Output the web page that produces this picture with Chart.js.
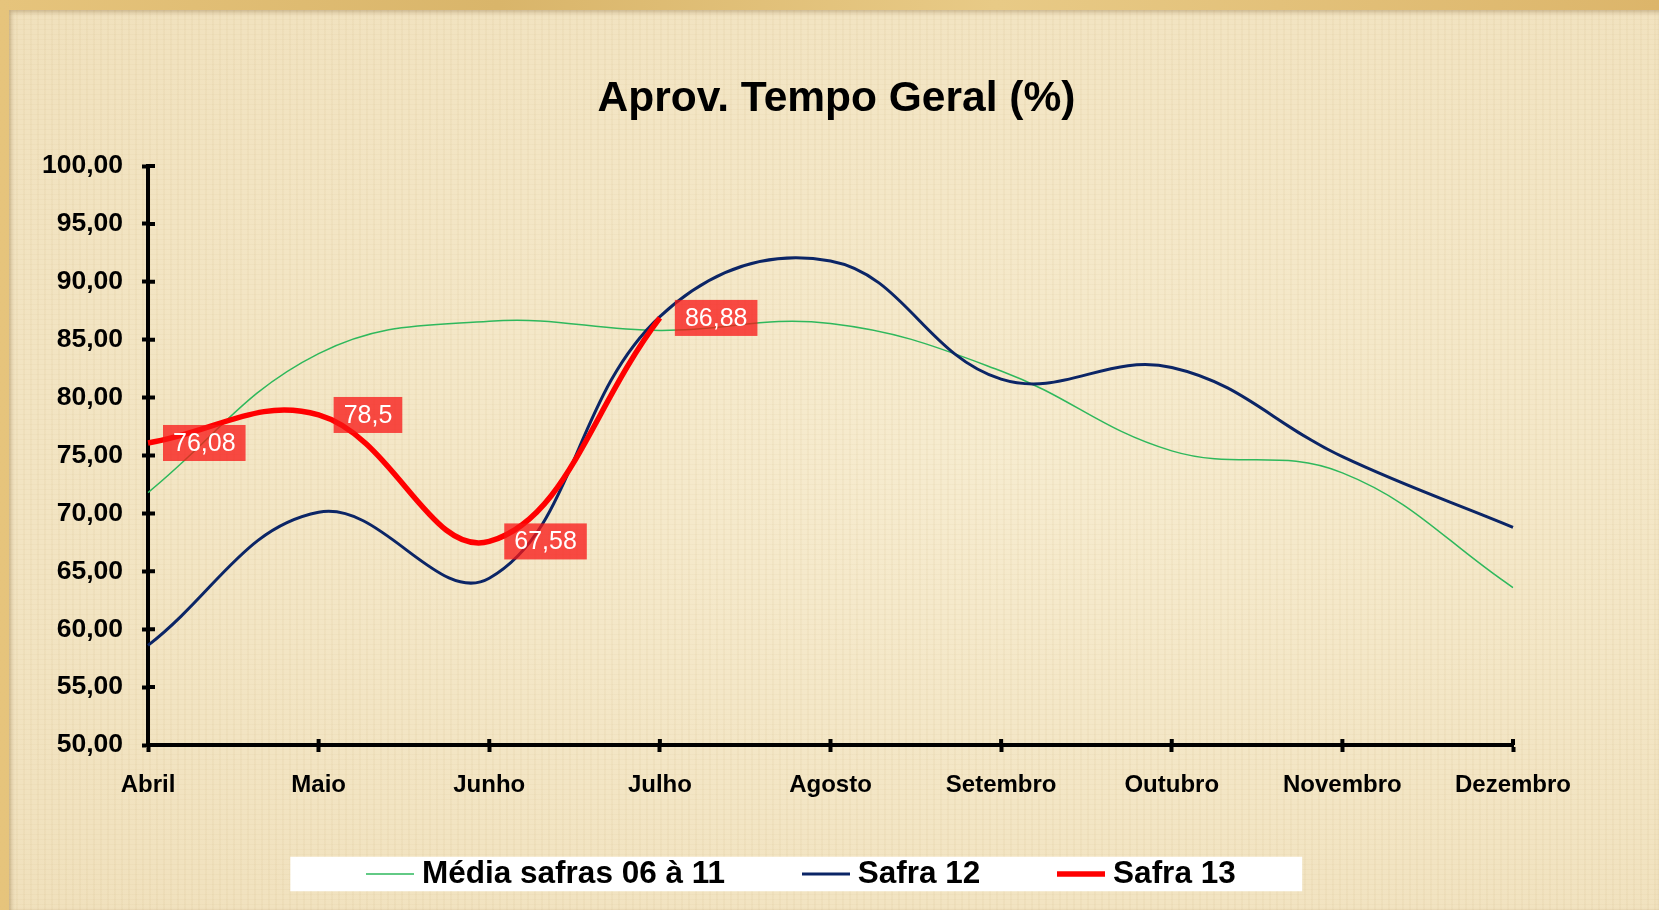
<!DOCTYPE html>
<html>
<head>
<meta charset="utf-8">
<script src="https://cdn.jsdelivr.net/npm/chart.js@4.4.1/dist/chart.umd.min.js"></script>
<style>
html, body { margin: 0; padding: 0; width: 1659px; height: 910px; overflow: hidden; }
body { position: relative; background: #DDB768 linear-gradient(90deg, #E6C47C 0%, #D9B56A 30%, #E8CA86 60%, #DCB56A 100%); }
#panel {
  position: absolute; left: 9px; top: 10px; right: 0; bottom: 0;
  background-color: #F2E4C3;
  background-image:
    repeating-linear-gradient(90deg, rgba(190,160,100,0.07) 0 2px, transparent 2px 7px),
    repeating-linear-gradient(0deg, rgba(190,160,100,0.06) 0 1px, transparent 1px 5px),
    radial-gradient(ellipse at 60% 50%, rgba(255,250,230,0.35), rgba(230,205,150,0.15));
  box-shadow: inset 2px 2px 4px rgba(120,90,40,0.35);
}
#c { position: absolute; left: 0; top: 0; }
</style>
</head>
<body>
<div id="panel"></div>
<canvas id="c" width="1659" height="910"></canvas>
<script>
const categories = ['Abril', 'Maio', 'Junho', 'Julho', 'Agosto', 'Setembro', 'Outubro', 'Novembro', 'Dezembro'];
const mediaSafras = [71.8, 83.8, 86.6, 85.8, 86.4, 82.3, 75.4, 73.5, 63.6];
const safra12 = [58.6, 70.1, 64.4, 87.0, 91.8, 81.6, 82.6, 74.9, 68.8];
const safra13 = [76.08, 78.5, 67.58, 86.88];
const yTickValues = [50, 55, 60, 65, 70, 75, 80, 85, 90, 95, 100];
const seriesNames = ['Média safras 06 à 11', 'Safra 12', 'Safra 13'];
const chartTitle = 'Aprov. Tempo Geral (%)';

const FONT = "'Liberation Sans', Arial, sans-serif";
const LEGEND_FONT_SIZE = 31.5;
const LEGEND_BOX = 32;
const LEGEND_LINE = 48;
const LEGEND_SHIFT_X = 48.5;
const LEGEND_SHIFT_Y = -25.25;
const TITLE_SHIFT = 6;

function legendLine(color, width) {
  const c = document.createElement('canvas');
  c.width = LEGEND_LINE;
  c.height = Math.ceil(width) + 4;
  const g = c.getContext('2d');
  g.strokeStyle = color;
  g.lineWidth = width;
  g.beginPath();
  g.moveTo(0, c.height / 2);
  g.lineTo(LEGEND_LINE, c.height / 2);
  g.stroke();
  return c;
}

const decorPlugin = {
  id: 'decor',
  afterLayout(chart) {
    const t = chart.titleBlock;
    if (t) { t.left += TITLE_SHIFT; t.right += TITLE_SHIFT; }
    const lg = chart.legend;
    if (lg) {
      lg.left += LEGEND_SHIFT_X; lg.right += LEGEND_SHIFT_X;
      lg.top += LEGEND_SHIFT_Y;
    }
  },
  beforeDraw(chart) {
    const lg = chart.legend;
    if (!lg || !lg.legendItems) return;
    const ctx = chart.ctx;
    const opts = lg.options.labels;
    ctx.save();
    ctx.font = 'bold ' + LEGEND_FONT_SIZE + 'px ' + FONT;
    let sum = 0;
    lg.legendItems.forEach(it => {
      sum += LEGEND_BOX + LEGEND_FONT_SIZE / 2 + ctx.measureText(it.text).width;
    });
    const p = opts.padding;
    const cx = (lg.left + lg.right) / 2;
    const half = (sum + 2 * p) / 2;
    const top = lg.top + p;
    ctx.fillStyle = '#ffffff';
    ctx.fillRect(cx - half - 84, top - 1.5, 2 * half + 150.5, LEGEND_FONT_SIZE + 3);
    ctx.restore();
  },
  afterDatasetsDraw(chart) {
    const meta = chart.getDatasetMeta(2);
    const ctx = chart.ctx;
    ctx.save();
    ctx.font = '25px ' + FONT;
    ctx.textBaseline = 'middle';
    ctx.textAlign = 'left';
    meta.data.forEach((pt, i) => {
      const v = chart.data.datasets[2].data[i];
      if (v === undefined || v === null) return;
      const txt = String(v).replace('.', ',');
      const w = ctx.measureText(txt).width + 20;
      const h = 36;
      const x = pt.x + 15;
      ctx.fillStyle = 'rgba(248,20,20,0.75)';
      ctx.fillRect(x, pt.y - h / 2, w, h);
      ctx.fillStyle = '#ffffff';
      ctx.fillText(txt, x + 10, pt.y + 1);
    });
    ctx.restore();
  },
  afterDraw(chart) {
    const ctx = chart.ctx;
    const xs = chart.scales.x, ys = chart.scales.y, ca = chart.chartArea;
    ctx.save();
    ctx.strokeStyle = '#000';
    ctx.lineWidth = 4;
    ctx.beginPath();
    ys.ticks.forEach(t => {
      const py = ys.getPixelForValue(t.value);
      ctx.moveTo(ca.left, py);
      ctx.lineTo(ca.left + 7, py);
    });
    categories.forEach((c, i) => {
      const px = xs.getPixelForValue(i);
      ctx.moveTo(px, ca.bottom);
      ctx.lineTo(px, ca.bottom - 6);
    });
    ctx.stroke();
    ctx.restore();
  }
};

const colors = ['#2EB85C', '#0B2566', '#FF0000'];
const widths = [1.5, 3, 5.5];

new Chart(document.getElementById('c'), {
  type: 'line',
  data: {
    labels: categories,
    datasets: [
      { label: seriesNames[0], data: mediaSafras, borderColor: colors[0], backgroundColor: colors[0], borderWidth: widths[0], pointRadius: 0, pointStyle: legendLine(colors[0], widths[0]), tension: 0.4, order: 3 },
      { label: seriesNames[1], data: safra12, borderColor: colors[1], backgroundColor: colors[1], borderWidth: widths[1], pointRadius: 0, pointStyle: legendLine(colors[1], widths[1]), tension: 0.4, order: 2 },
      { label: seriesNames[2], data: safra13, borderColor: colors[2], backgroundColor: colors[2], borderWidth: widths[2], pointRadius: 0, pointStyle: legendLine(colors[2], widths[2]), tension: 0.4, order: 1 }
    ]
  },
  options: {
    responsive: false,
    animation: false,
    devicePixelRatio: 1,
    layout: { padding: { left: 0, right: 146, top: 73.5, bottom: 0 } },
    plugins: {
      title: {
        display: true, text: chartTitle, fullSize: false, color: '#000',
        font: { family: FONT, size: 42.5, weight: 'bold', lineHeight: 1.2 },
        padding: { top: 0, bottom: 41.5 }
      },
      legend: {
        position: 'bottom',
        maxHeight: 111.5,
        labels: {
          usePointStyle: true, pointStyleWidth: LEGEND_BOX,
          padding: 85, color: '#000',
          font: { family: FONT, size: LEGEND_FONT_SIZE, weight: 'bold' },
          sort: (a, b) => a.datasetIndex - b.datasetIndex
        }
      },
      tooltip: { enabled: false }
    },
    scales: {
      x: {
        type: 'category', offset: false,
        grid: { drawOnChartArea: false, drawTicks: true, tickLength: 7, tickWidth: 4, tickColor: '#000' },
        border: { display: true, color: '#000', width: 4 },
        ticks: { color: '#000', font: { family: FONT, size: 24, weight: 'bold' }, padding: 19, maxRotation: 0, autoSkip: false },
        afterFit(s) { s.height = 53.5; }
      },
      y: {
        min: 50, max: 100,
        afterBuildTicks(s) { s.ticks = yTickValues.map(v => ({ value: v })); },
        grid: { drawOnChartArea: false, drawTicks: true, tickLength: 6, tickWidth: 4, tickColor: '#000' },
        border: { display: true, color: '#000', width: 4 },
        ticks: { color: '#000', font: { family: FONT, size: 26.5, weight: 'bold' }, padding: 19, callback: v => Number(v).toFixed(2).replace('.', ',') },
        afterFit(s) { s.width = 148; }
      }
    }
  },
  plugins: [decorPlugin]
});
</script>
</body>
</html>
